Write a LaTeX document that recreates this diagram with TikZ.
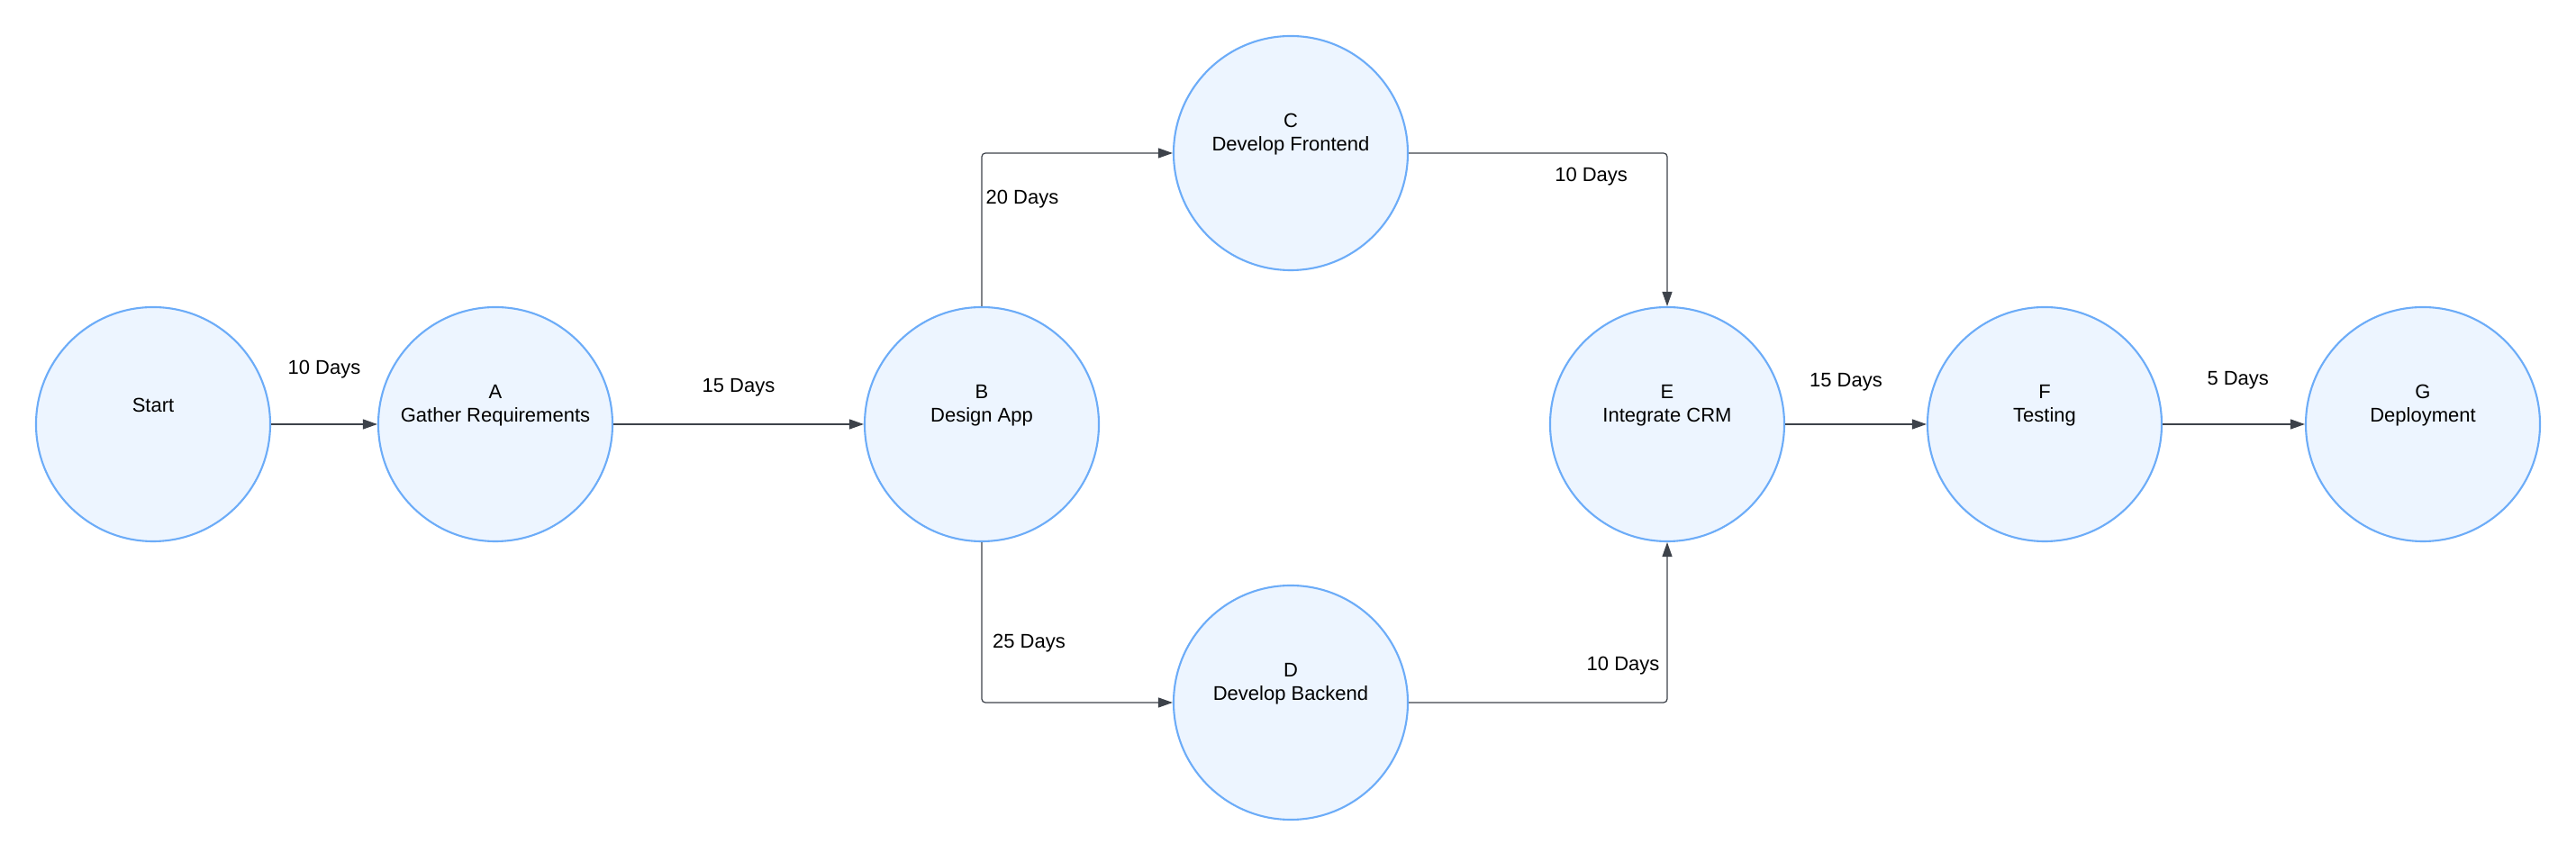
\documentclass[tikz,border=0pt]{standalone}
\usepackage{fontspec}
\setmainfont{Liberation Sans}
\usetikzlibrary{arrows.meta}

\definecolor{taskline}{RGB}{108,172,248}
\definecolor{taskfill}{RGB}{237,245,255}
\definecolor{flowline}{RGB}{61,66,74}

\newcommand\daysize{\fontsize{6.26}{7.55}\selectfont}

\tikzset{
  task/.style={circle, draw=taskline, fill=taskfill, line width=0.6pt,
    minimum size=2.6cm, inner sep=0pt, label={[tasktext]center:{#1}}},
  tasktext/.style={align=center, font=\daysize, inner sep=0pt, yshift=0.21cm},
  flow/.style={draw=flowline, line width=0.35pt, rounded corners=0.04cm,
    -{Triangle[length=0.16cm,width=0.11cm]}},
  days/.style={font=\daysize, inner sep=0pt}
}

\begin{document}
\begin{tikzpicture}
    \useasboundingbox (0,0) rectangle (28.6,9.47);

      % tasks
      \node[task={Start}] (S) at (1.70,4.76) {};
      \node[task={A\\Gather Requirements}] (A) at (5.50,4.76) {};
      \node[task={B\\Design App}] (B) at (10.90,4.76) {};
      \node[task={C\\Develop Frontend}] (C) at (14.33,7.77) {};
      \node[task={D\\Develop Backend}] (D) at (14.33,1.67) {};
      \node[task={E\\Integrate CRM}] (E) at (18.51,4.76) {};
      \node[task={F\\Testing}] (F) at (22.70,4.76) {};
      \node[task={G\\Deployment}] (G) at (26.90,4.76) {};

      % durations
      \path (S) edge[flow] node[days, yshift=0.61cm] {10 Days} (A);
      \path (A) edge[flow] node[days, yshift=0.41cm] {15 Days} (B);
      \draw[flow] (B.north) |- node[days, pos=0.35, anchor=west, xshift=0.04cm] {20 Days} (C.west);
      \draw[flow] (B.south) |- node[days, pos=0.315, anchor=west, xshift=0.115cm] {25 Days} (D.west);
      \draw[flow] (C.east) -| node[days, pos=0.353, yshift=-0.26cm] {10 Days} (E.north);
      \draw[flow] (D.east) -| node[days, pos=0.615, anchor=east, xshift=-0.08cm] {10 Days} (E.south);
      \path (E) edge[flow] node[days, pos=0.43, yshift=0.47cm] {15 Days} (F);
      \path (F) edge[flow] node[days, pos=0.53, yshift=0.49cm] {5 Days} (G);

\end{tikzpicture}
\end{document}
